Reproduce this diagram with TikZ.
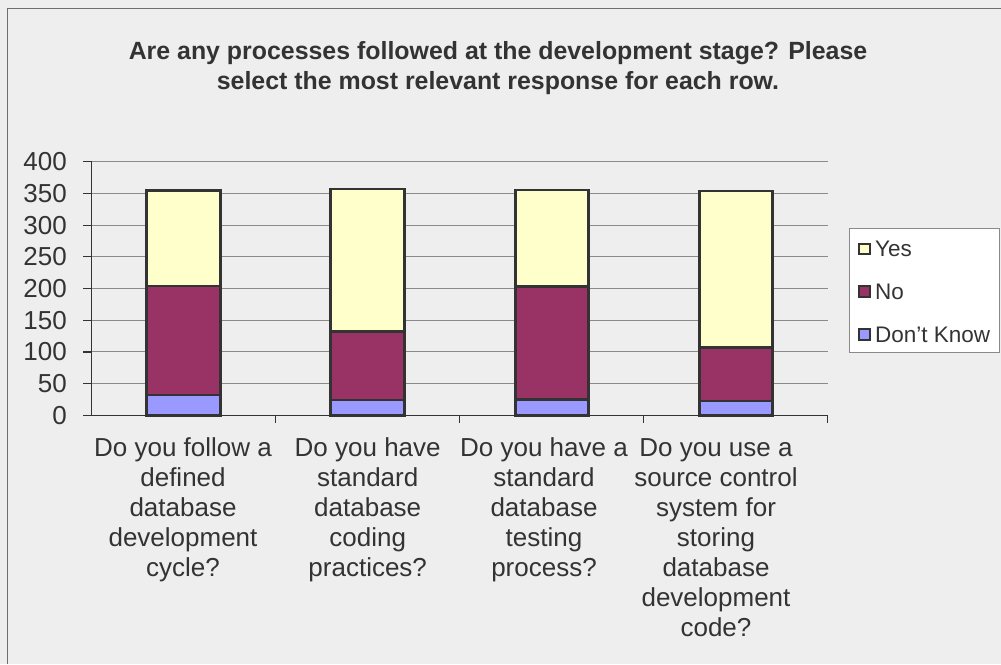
\documentclass[tikz,border=0pt]{standalone}
\usepackage{fontspec}
\setmainfont{Liberation Sans}
\usepackage{tikz}
\usetikzlibrary{positioning}
\definecolor{ChartBack}{HTML}{EEEEEE}
\definecolor{ChartText}{HTML}{333333}
\definecolor{ChartFrame}{HTML}{6E6E6E}
\definecolor{GridGray}{HTML}{8A8A8A}
\definecolor{BarEdge}{HTML}{333333}
\definecolor{YesFill}{HTML}{FFFFCC}
\definecolor{NoFill}{HTML}{993366}
\definecolor{DontKnowFill}{HTML}{9999FF}
\tikzstyle{bar} = [draw=BarEdge, line width=2.6pt]
\tikzstyle{gridline} = [GridGray, line width=1pt]
\tikzstyle{chartaxis} = [BarEdge, line width=1.2pt]
\tikzstyle{ticklabel} = [anchor=east, inner sep=0pt, text=ChartText, font=\fontsize{26}{30}\selectfont]
\tikzstyle{category} = [anchor=base, align=center, inner sep=0pt, text=ChartText, font=\fontsize{26}{30.1}\selectfont]
\tikzstyle{legendkey} = [draw=BarEdge, line width=2pt, minimum size=10.5pt, inner sep=0pt]
\tikzstyle{legendtext} = [anchor=west, inner sep=0pt, text=ChartText, font=\fontsize{22.5}{27}\selectfont]

\begin{document}
\begin{tikzpicture}[x=1pt, y=-1pt]
  \fill[ChartBack] (0,0) rectangle (1001,664);
  \useasboundingbox (0,0) rectangle (1001,664);
  \coordinate (frame_bottom) at (7.3,664);
  \coordinate (frame_corner) at (7.3,8.3);
  \coordinate (frame_right) at (1001,8.3);
  \draw[ChartFrame, line width=1.3pt] (frame_bottom) -- (frame_corner) -- (frame_right);
  \node (title) [anchor=base, align=center, inner sep=0pt, text=ChartText, font=\bfseries\fontsize{24.9}{30}\selectfont] at (498,89) {Are any processes followed at the development stage? Please\\select the most relevant response for each row.};
  \begin{scope}[shift={(0,415.3)}, y=0.634pt]
    \foreach \v in {50,100,...,400}
      \draw[gridline] (91.7,\v) -- (827.7,\v);
    \foreach \v in {0,50,...,400} {
      \draw[chartaxis] (83,\v) -- (91.7,\v);
      \node (tick_\v) [ticklabel] at (67,\v) {\v};
    }
    \foreach \x/\dk/\no/\yes in {183.5/32/204/355, 367.5/24/132.5/357, 552/25/203.5/355.4, 736/22.6/106.6/354} {
      \draw[bar, fill=YesFill] (\x-36.75,\no) rectangle (\x+36.75,\yes);
      \draw[bar, fill=NoFill] (\x-36.75,\dk) rectangle (\x+36.75,\no);
      \draw[bar, fill=DontKnowFill] (\x-36.75,0) rectangle (\x+36.75,\dk);
    }
    \foreach \x in {275.7,459.5,643.5,827.7}
      \draw[chartaxis] (\x,0) -- (\x,-12.6);
    \draw[chartaxis] (91.7,400) -- (91.7,0) -- (827.7,0);
  \end{scope}
  \node (cat_cycle) [category] at (183,576.4) {Do you follow a\\defined\\database\\development\\cycle?};
  \node (cat_coding) [category] at (367.7,576.4) {Do you have\\standard\\database\\coding\\practices?};
  \node (cat_testing) [category] at (544,576.4) {Do you have a\\standard\\database\\testing\\process?};
  \node (cat_source) [category] at (716,636.6) {Do you use a\\source control\\system for\\storing\\database\\development\\code?};
  \node (legend) [draw=GridGray, fill=white, line width=1pt, minimum width=150pt, minimum height=124pt, anchor=north west, inner sep=0pt] at (849.3,227.7) {};
  \node (key_yes) [legendkey, fill=YesFill] at (864.7,248.8) {};
  \node (label_yes) [legendtext, right=4pt of key_yes] {Yes};
  \node (key_no) [legendkey, fill=NoFill, below=30.4pt of key_yes] {};
  \node (label_no) [legendtext, right=4pt of key_no] {No};
  \node (key_dontknow) [legendkey, fill=DontKnowFill, below=30.4pt of key_no] {};
  \node (label_dontknow) [legendtext, right=4pt of key_dontknow] {Don’t Know};
\end{tikzpicture}
\end{document}
